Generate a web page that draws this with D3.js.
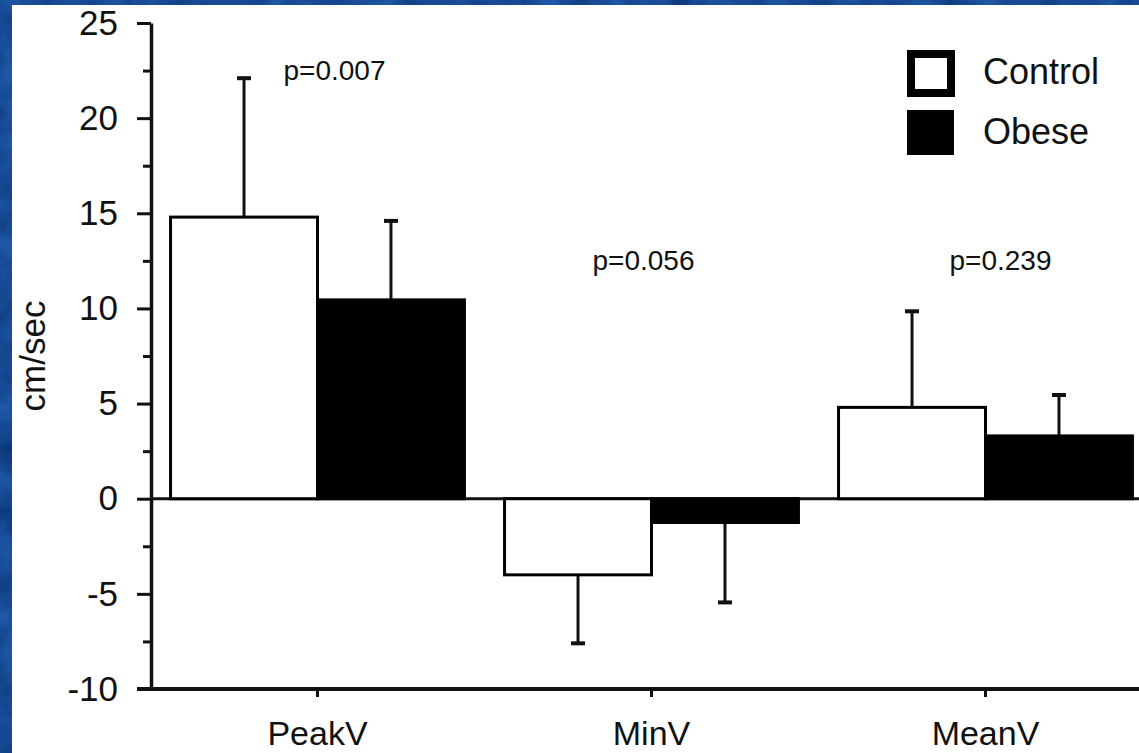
<!DOCTYPE html>
<html>
<head>
<meta charset="utf-8">
<script src="https://cdn.jsdelivr.net/npm/d3@7"></script>
<style>
  html, body { margin: 0; padding: 0; background: #1b4c92; }
  svg { display: block; font-family: 'Liberation Sans', Arial, Helvetica, sans-serif; }
  .axis text { font-size: 35px; fill: #111; }
  .axis line, .axis path { stroke: #111; }
  .legend-label { font-size: 36px; fill: #111; }
  .p-label { font-size: 28px; fill: #111; }
</style>
</head>
<body>
<div id="chart"></div>
<script>
// data
const groups = ['PeakV', 'MinV', 'MeanV'];
const series = ['Control', 'Obese'];
const controlMean = [14.8, -4.0, 4.8];
const controlSD = [7.3, 3.6, 5.05];
const obeseMean = [10.45, -1.25, 3.3];
const obeseSD = [4.15, 4.2, 2.15];
const pValues = ['p=0.007', 'p=0.056', 'p=0.239'];
const yTicks = [-10, -5, 0, 5, 10, 15, 20, 25];
const yMinorTicks = [-7.5, -2.5, 2.5, 7.5, 12.5, 17.5, 22.5];

class GroupedBarChart {
  constructor(_config, _data) {
    this.config = {
      parentElement: _config.parentElement,
      containerWidth: _config.containerWidth || 1139,
      containerHeight: _config.containerHeight || 753,
      margin: _config.margin || { top: 23, right: 0, bottom: 64, left: 151 },
    };
    this.data = _data;
    this.initVis();
  }

  initVis() {
    let vis = this;

    vis.width = vis.config.containerWidth - vis.config.margin.left - vis.config.margin.right;
    vis.height = vis.config.containerHeight - vis.config.margin.top - vis.config.margin.bottom;

    vis.svg = d3
      .select(vis.config.parentElement)
      .append('svg')
      .attr('width', vis.config.containerWidth)
      .attr('height', vis.config.containerHeight);

    // textured blue slide background
    const defs = vis.svg.append('defs');
    const filter = defs.append('filter').attr('id', 'marble')
      .attr('x', 0).attr('y', 0).attr('width', '100%').attr('height', '100%')
      .attr('color-interpolation-filters', 'sRGB');
    filter.append('feTurbulence')
      .attr('type', 'fractalNoise')
      .attr('baseFrequency', 0.03)
      .attr('numOctaves', 4)
      .attr('seed', 7);
    filter.append('feColorMatrix')
      .attr('type', 'matrix')
      .attr('values', '0.12 0 0 0 0.03  0.2 0 0 0 0.19  0.3 0 0 0 0.43  0 0 0 0 1');

    vis.svg.append('rect')
      .attr('width', vis.config.containerWidth)
      .attr('height', vis.config.containerHeight)
      .attr('filter', 'url(#marble)');

    // white panel
    vis.svg.append('rect')
      .attr('x', 12)
      .attr('y', 5)
      .attr('width', vis.config.containerWidth - 12)
      .attr('height', vis.config.containerHeight - 5)
      .attr('fill', '#fff');

    vis.chart = vis.svg
      .append('g')
      .attr('transform', `translate(${vis.config.margin.left}, ${vis.config.margin.top})`);

    // scales
    vis.xScale = d3.scaleBand()
      .domain(groups)
      .range([-0.5, 1001.5])
      .paddingInner(0.12)
      .paddingOuter(0.06);

    vis.xInner = d3.scaleBand()
      .domain(series)
      .range([0, vis.xScale.bandwidth()]);

    vis.yScale = d3.scaleLinear()
      .domain([-10, 25])
      .range([vis.height, 0]);

    vis.renderVis();
    vis.renderLegend();
  }

  renderVis() {
    let vis = this;

    // y axis, major + minor ticks (plain hyphen for negatives, like the original)
    const yAxis = vis.chart.append('g')
      .attr('class', 'axis y-axis')
      .call(d3.axisLeft(vis.yScale)
        .tickValues(yTicks)
        .tickFormat((d) => String(d))
        .tickSize(14)
        .tickSizeOuter(0)
        .tickPadding(19));
    yAxis.select('.domain').attr('stroke-width', 3.5);
    yAxis.selectAll('.tick line').attr('stroke-width', 3);

    const yMinor = vis.chart.append('g')
      .attr('class', 'axis y-minor')
      .call(d3.axisLeft(vis.yScale).tickValues(yMinorTicks).tickSize(8).tickFormat(''));
    yMinor.select('.domain').remove();
    yMinor.selectAll('.tick line').attr('stroke-width', 3);

    // y label
    vis.svg.append('text')
      .attr('class', 'axis-title')
      .attr('transform', `translate(45, ${vis.config.margin.top + vis.yScale(7.5)}) rotate(-90)`)
      .attr('text-anchor', 'middle')
      .style('font-size', '35px')
      .style('fill', '#111')
      .text('cm/sec');

    // x axis at the bottom
    const xAxis = vis.chart.append('g')
      .attr('class', 'axis x-axis')
      .attr('transform', `translate(0, ${vis.height})`)
      .call(d3.axisBottom(vis.xScale).tickSize(8).tickSizeOuter(0).tickPadding(24));
    xAxis.select('.domain').remove();
    xAxis.selectAll('.tick line').attr('stroke-width', 3);
    xAxis.selectAll('.tick text').style('font-size', '34px');
    xAxis.append('line')
      .attr('x1', -14)
      .attr('x2', vis.width + 10)
      .attr('stroke', '#111')
      .attr('stroke-width', 4);

    // zero line
    vis.chart.append('line')
      .attr('x1', 0)
      .attr('x2', vis.width + 10)
      .attr('y1', vis.yScale(0))
      .attr('y2', vis.yScale(0))
      .attr('stroke', '#111')
      .attr('stroke-width', 3);

    const groupsG = vis.chart.selectAll('.group')
      .data(vis.data)
      .join('g')
      .attr('class', 'group')
      .attr('transform', (d) => `translate(${vis.xScale(d.group)}, 0)`);

    const errEnd = (d) => vis.yScale(d.mean >= 0 ? d.mean + d.sd : d.mean - d.sd);
    const midX = (d) => vis.xInner(d.series) + vis.xInner.bandwidth() / 2;

    // error bars (drawn first so the bar edge covers the join)
    groupsG.selectAll('.err')
      .data((d) => d.values)
      .join('line')
      .attr('class', 'err')
      .attr('x1', midX)
      .attr('x2', midX)
      .attr('y1', (d) => vis.yScale(d.mean))
      .attr('y2', errEnd)
      .attr('stroke', '#111')
      .attr('stroke-width', 3);

    groupsG.selectAll('.cap')
      .data((d) => d.values)
      .join('line')
      .attr('class', 'cap')
      .attr('x1', (d) => midX(d) - 7)
      .attr('x2', (d) => midX(d) + 7)
      .attr('y1', errEnd)
      .attr('y2', errEnd)
      .attr('stroke', '#111')
      .attr('stroke-width', 4);

    // bars
    groupsG.selectAll('.bar')
      .data((d) => d.values)
      .join('rect')
      .attr('class', 'bar')
      .attr('x', (d) => vis.xInner(d.series))
      .attr('width', vis.xInner.bandwidth())
      .attr('y', (d) => vis.yScale(Math.max(0, d.mean)))
      .attr('height', (d) => Math.abs(vis.yScale(d.mean) - vis.yScale(0)))
      .attr('fill', (d) => (d.series === 'Control' ? '#fff' : '#000'))
      .attr('stroke', '#000')
      .attr('stroke-width', 3);

    // p-value labels
    const pOffset = [17, -8, 15];
    const pLevel = [22, 12, 12];
    vis.chart.selectAll('.p-label')
      .data(vis.data)
      .join('text')
      .attr('class', 'p-label')
      .attr('x', (d, i) => vis.xScale(d.group) + vis.xScale.bandwidth() / 2 + pOffset[i])
      .attr('y', (d, i) => vis.yScale(pLevel[i]))
      .attr('text-anchor', 'middle')
      .text((d) => d.p);
  }

  // legend
  renderLegend() {
    let vis = this;
    vis.legend = vis.svg.append('g').attr('transform', 'translate(907,50)');

    const items = vis.legend.selectAll('.legend-item')
      .data(series)
      .join('g')
      .attr('class', 'legend-item')
      .attr('transform', (d, i) => `translate(0, ${i * 60})`);

    items.append('rect')
      .attr('x', (d) => (d === 'Control' ? 4 : 0))
      .attr('y', (d) => (d === 'Control' ? 4 : 0))
      .attr('width', (d) => (d === 'Control' ? 40 : 47))
      .attr('height', (d) => (d === 'Control' ? 39 : 45))
      .attr('fill', (d) => (d === 'Control' ? '#fff' : '#000'))
      .attr('stroke', '#000')
      .attr('stroke-width', (d) => (d === 'Control' ? 8 : 0));

    items.append('text')
      .attr('class', 'legend-label')
      .attr('x', 76)
      .attr('y', 34)
      .text((d) => d);
  }
}

const data = groups.map((g, i) => ({
  group: g,
  p: pValues[i],
  values: [
    { series: 'Control', mean: controlMean[i], sd: controlSD[i] },
    { series: 'Obese', mean: obeseMean[i], sd: obeseSD[i] },
  ],
}));

new GroupedBarChart({ parentElement: '#chart' }, data);
</script>
</body>
</html>
